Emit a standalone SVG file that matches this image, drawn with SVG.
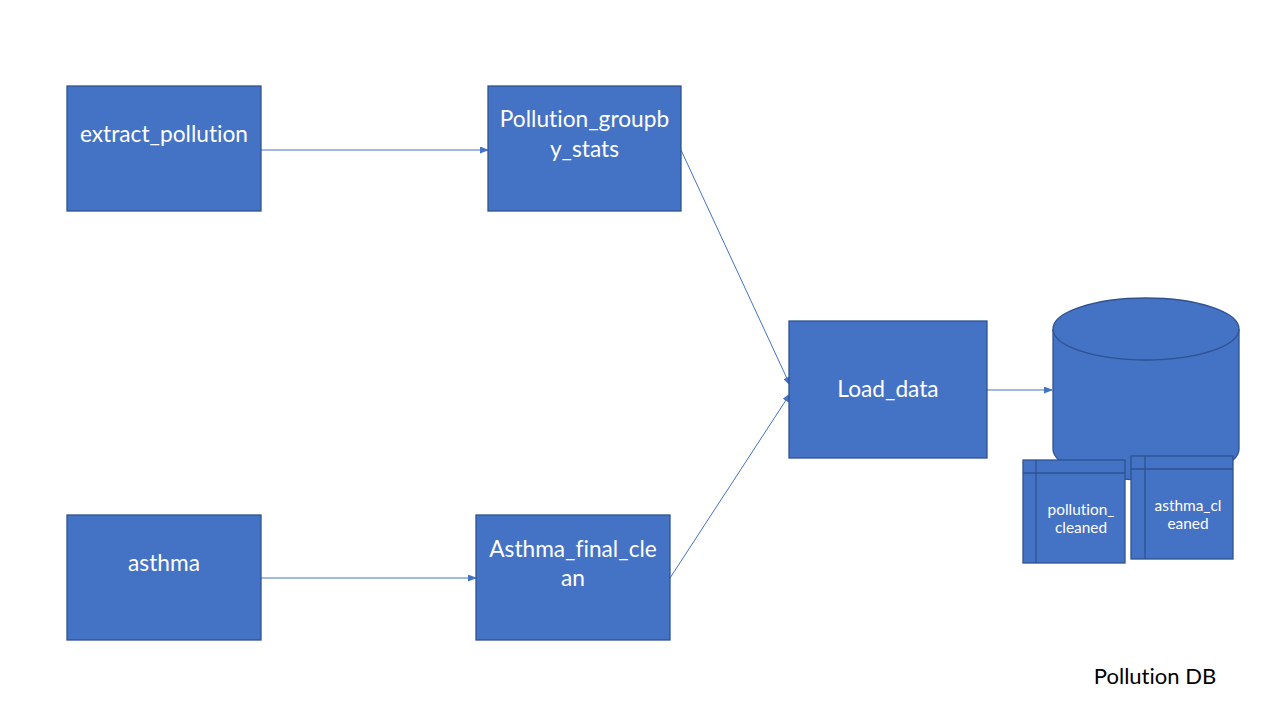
<svg xmlns="http://www.w3.org/2000/svg" width="1280" height="720" viewBox="0 0 1280 720">
<style>
text{font-family:Lato,"Open Sans",sans-serif;font-variant-ligatures:none;text-anchor:middle}
.box{fill:#4472C4;stroke:#2F528F;stroke-width:1.3}
.t{font-size:22.7px;fill:#fff}
.s{font-size:15.4px;fill:#fff}
.c{stroke:#4472C4;stroke-width:1;fill:none;marker-end:url(#ah)}
</style>
<defs>
<marker id="ah" markerWidth="9" markerHeight="7" refX="8" refY="3.5" orient="auto" markerUnits="userSpaceOnUse">
<path d="M0,0 L9,3.5 L0,7 Z" fill="#4472C4"/>
</marker>
</defs>
<rect width="1280" height="720" fill="#fff"/>
<g id="connectors">
<line class="c" x1="261" y1="150" x2="488" y2="150"/>
<line class="c" x1="261" y1="578" x2="476" y2="578"/>
<line class="c" x1="681" y1="150" x2="790" y2="385"/>
<line class="c" x1="670" y1="578" x2="790" y2="394"/>
<line class="c" x1="987" y1="390" x2="1052" y2="390"/>
</g>
<g id="extract_pollution">
<rect class="box" x="67" y="86" width="194" height="125"/>
<text class="t" x="164" y="142">extract_pollution</text>
</g>
<g id="pollution_groupby_stats">
<rect class="box" x="488" y="86" width="193" height="125"/>
<text class="t" x="584.5" y="127">Pollution_groupb</text>
<text class="t" x="584.5" y="157">y_stats</text>
</g>
<g id="asthma">
<rect class="box" x="67" y="515" width="194" height="125"/>
<text class="t" x="164" y="571">asthma</text>
</g>
<g id="asthma_final_clean">
<rect class="box" x="476" y="515" width="194" height="125"/>
<text class="t" x="573" y="557">Asthma_final_cle</text>
<text class="t" x="573" y="586">an</text>
</g>
<g id="load_data">
<rect class="box" x="789" y="321" width="198" height="137"/>
<text class="t" x="888" y="397">Load_data</text>
</g>
<g id="pollution_db">
<path class="box" d="M1053,329 L1053,449 A93,31 0 0 0 1239,449 L1239,329"/>
<ellipse class="box" cx="1146" cy="329" rx="93" ry="31"/>
</g>
<g id="pollution_cleaned">
<rect class="box" x="1023" y="460" width="102" height="103"/>
<line stroke="#2F528F" stroke-width="1.3" x1="1023" y1="473" x2="1125" y2="473"/>
<line stroke="#2F528F" stroke-width="1.3" x1="1036" y1="460" x2="1036" y2="563"/>
<text class="s" x="1081" y="515">pollution_</text>
<text class="s" x="1081" y="533">cleaned</text>
</g>
<g id="asthma_cleaned">
<rect class="box" x="1131" y="456" width="102" height="103"/>
<line stroke="#2F528F" stroke-width="1.3" x1="1131" y1="469" x2="1233" y2="469"/>
<line stroke="#2F528F" stroke-width="1.3" x1="1145" y1="456" x2="1145" y2="559"/>
<text class="s" x="1188" y="511">asthma_cl</text>
<text class="s" x="1188" y="529">eaned</text>
</g>
<text x="1155" y="684" style="font-size:22px;fill:#000">Pollution DB</text>
</svg>
